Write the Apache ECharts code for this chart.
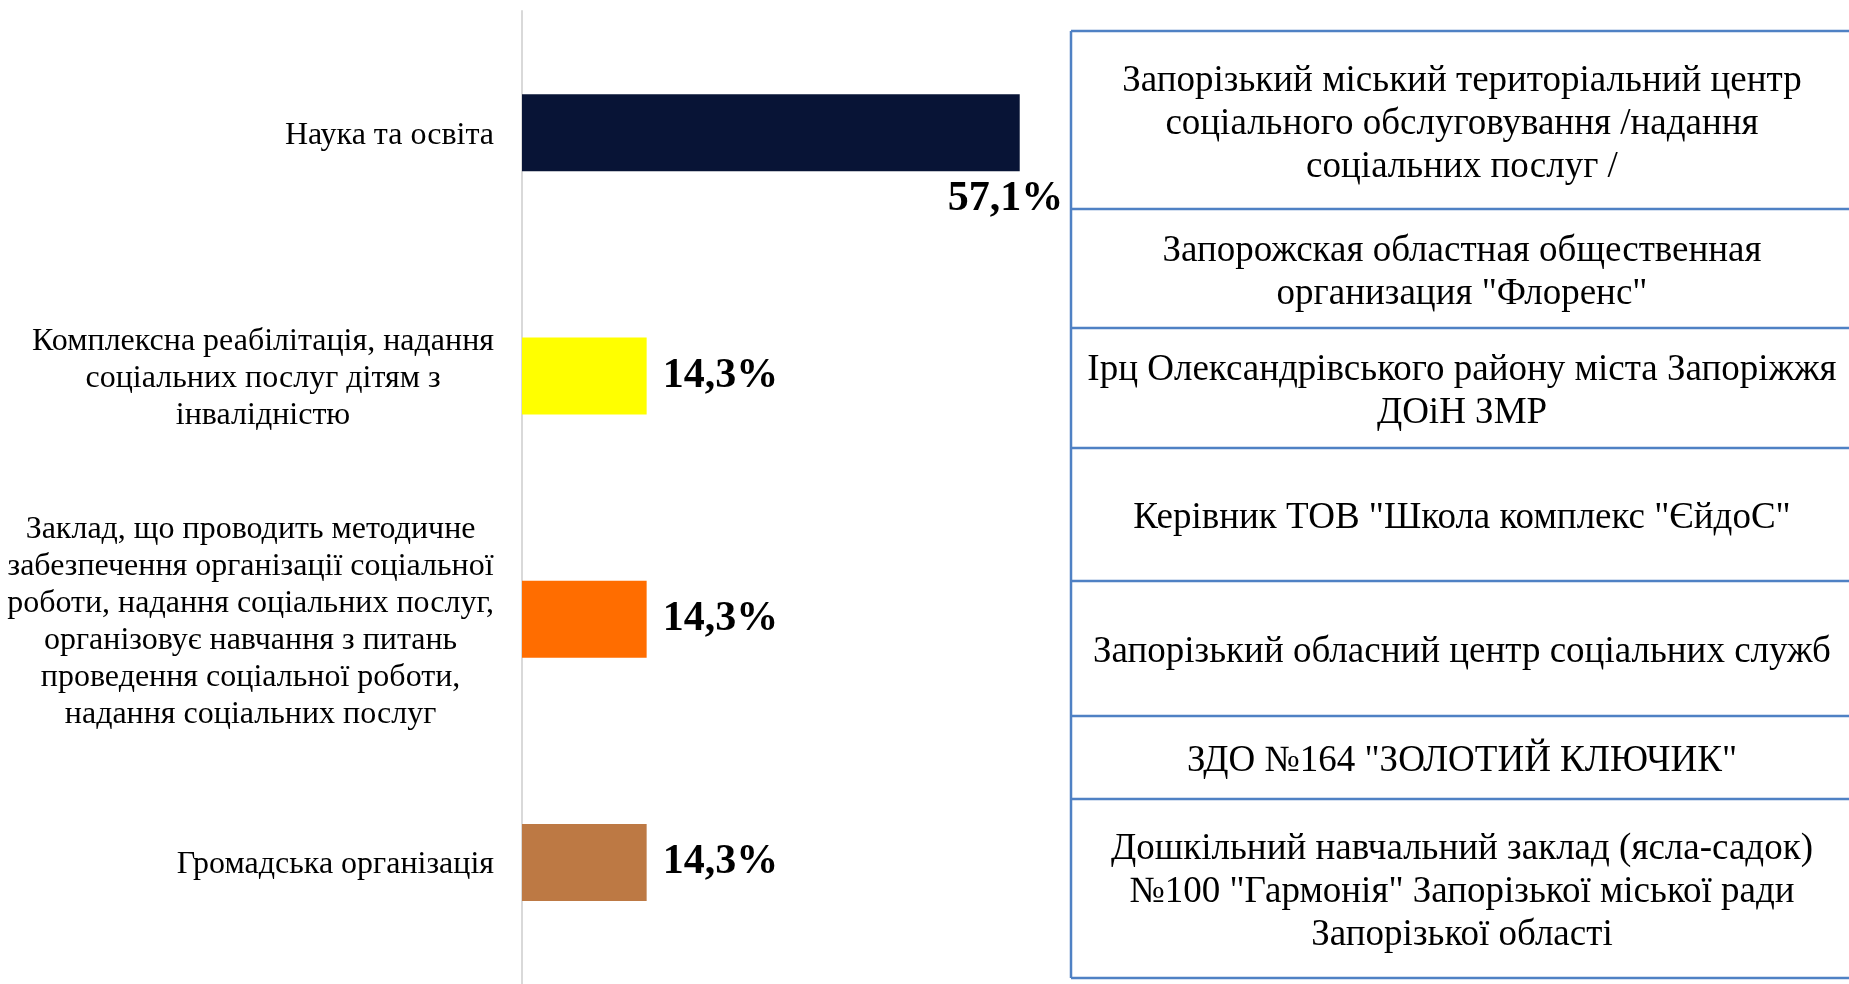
<!DOCTYPE html>
<html>
<head>
<meta charset="utf-8">
<script src="https://cdn.jsdelivr.net/npm/echarts@6/dist/echarts.min.js"></script>
<style>
  html, body { margin: 0; padding: 0; background: #fff; }
  #chart { width: 1849px; height: 984px; }
</style>
</head>
<body>
<div id="chart"></div>
<script>
const categories = [
  'Наука та освіта',
  'Комплексна реабілітація, надання\nсоціальних послуг дітям з\nінвалідністю',
  'Заклад, що проводить методичне\nзабезпечення організації соціальної\nроботи, надання соціальних послуг,\nорганізовує навчання з питань\nпроведення соціальної роботи,\nнадання соціальних послуг',
  'Громадська організація',
]
const shares = [57.1, 14.3, 14.3, 14.3]
const barColors = ['#081436', '#ffff00', '#ff6d00', '#bd7944']

const tableRows = [
  'Запорізький міський територіальний центр\nсоціального обслуговування /надання\nсоціальних послуг /',
  'Запорожская областная общественная\nорганизация "Флоренс"',
  'Ірц Олександрівського району міста Запоріжжя\nДОіН ЗМР',
  'Керівник ТОВ "Школа комплекс "ЄйдоС"',
  'Запорізький обласний центр соціальних служб',
  'ЗДО №164 "ЗОЛОТИЙ КЛЮЧИК"',
  'Дошкільний навчальний заклад (ясла-садок)\n№100 "Гармонія" Запорізької міської ради\nЗапорізької області',
]

// table layout (pixels)
const tableLeft = 1071
const tableRight = 1853
const rowEdges = [31, 209, 328, 448, 581, 716, 799, 978]
const serif = '"Liberation Serif", "Times New Roman", serif'
const borderColor = '#4f81c4'

function formatShare(value) {
  return `${value.toFixed(1).replace('.', ',')}%`
}

function buildTable() {
  const elements = []
  rowEdges.forEach((y) => {
    elements.push({
      type: 'line',
      shape: { x1: tableLeft, y1: y, x2: tableRight, y2: y },
      style: { stroke: borderColor, lineWidth: 2.5 },
    })
  })
  elements.push({
    type: 'line',
    shape: { x1: tableLeft, y1: rowEdges[0], x2: tableLeft, y2: rowEdges[rowEdges.length - 1] },
    style: { stroke: borderColor, lineWidth: 2.5 },
  })
  tableRows.forEach((text, i) => {
    elements.push({
      type: 'text',
      x: (tableLeft + tableRight) / 2,
      y: (rowEdges[i] + rowEdges[i + 1]) / 2 + 4,
      style: {
        text,
        align: 'center',
        verticalAlign: 'middle',
        font: `37px ${serif}`,
        lineHeight: 43,
        fill: '#000',
      },
    })
  })
  return elements
}

const chart = echarts.init(document.getElementById('chart'))

chart.setOption({
  animation: false,
  grid: {
    left: 522,
    top: 11,
    width: 523,
    height: 978,
  },
  xAxis: {
    type: 'value',
    min: 0,
    max: 60,
    show: false,
  },
  yAxis: {
    type: 'category',
    inverse: true,
    data: categories,
    axisLine: {
      show: true,
      lineStyle: { color: '#d9d9d9', width: 2 },
    },
    axisTick: { show: false },
    axisLabel: {
      margin: 28,
      padding: [5, 0, 0, 0],
      formatter: (value) => value.split('\n').map((line) => `{c|${line}}`).join('\n'),
      rich: {
        c: {
          align: 'center',
          fontFamily: serif,
          fontSize: 32,
          lineHeight: 37,
          color: '#000',
        },
      },
    },
  },
  series: [
    {
      type: 'bar',
      barWidth: 77,
      data: shares.map((value, i) => ({
        value,
        itemStyle: { color: barColors[i] },
        label: i === 0 ? { position: 'right', distance: 5, offset: [-77, 67] } : undefined,
      })),
      label: {
        show: true,
        position: 'right',
        distance: 16,
        formatter: (p) => formatShare(p.value),
        fontFamily: serif,
        fontSize: 42,
        fontWeight: 'bold',
        color: '#000',
      },
    },
  ],
  graphic: buildTable(),
})
</script>
</body>
</html>
